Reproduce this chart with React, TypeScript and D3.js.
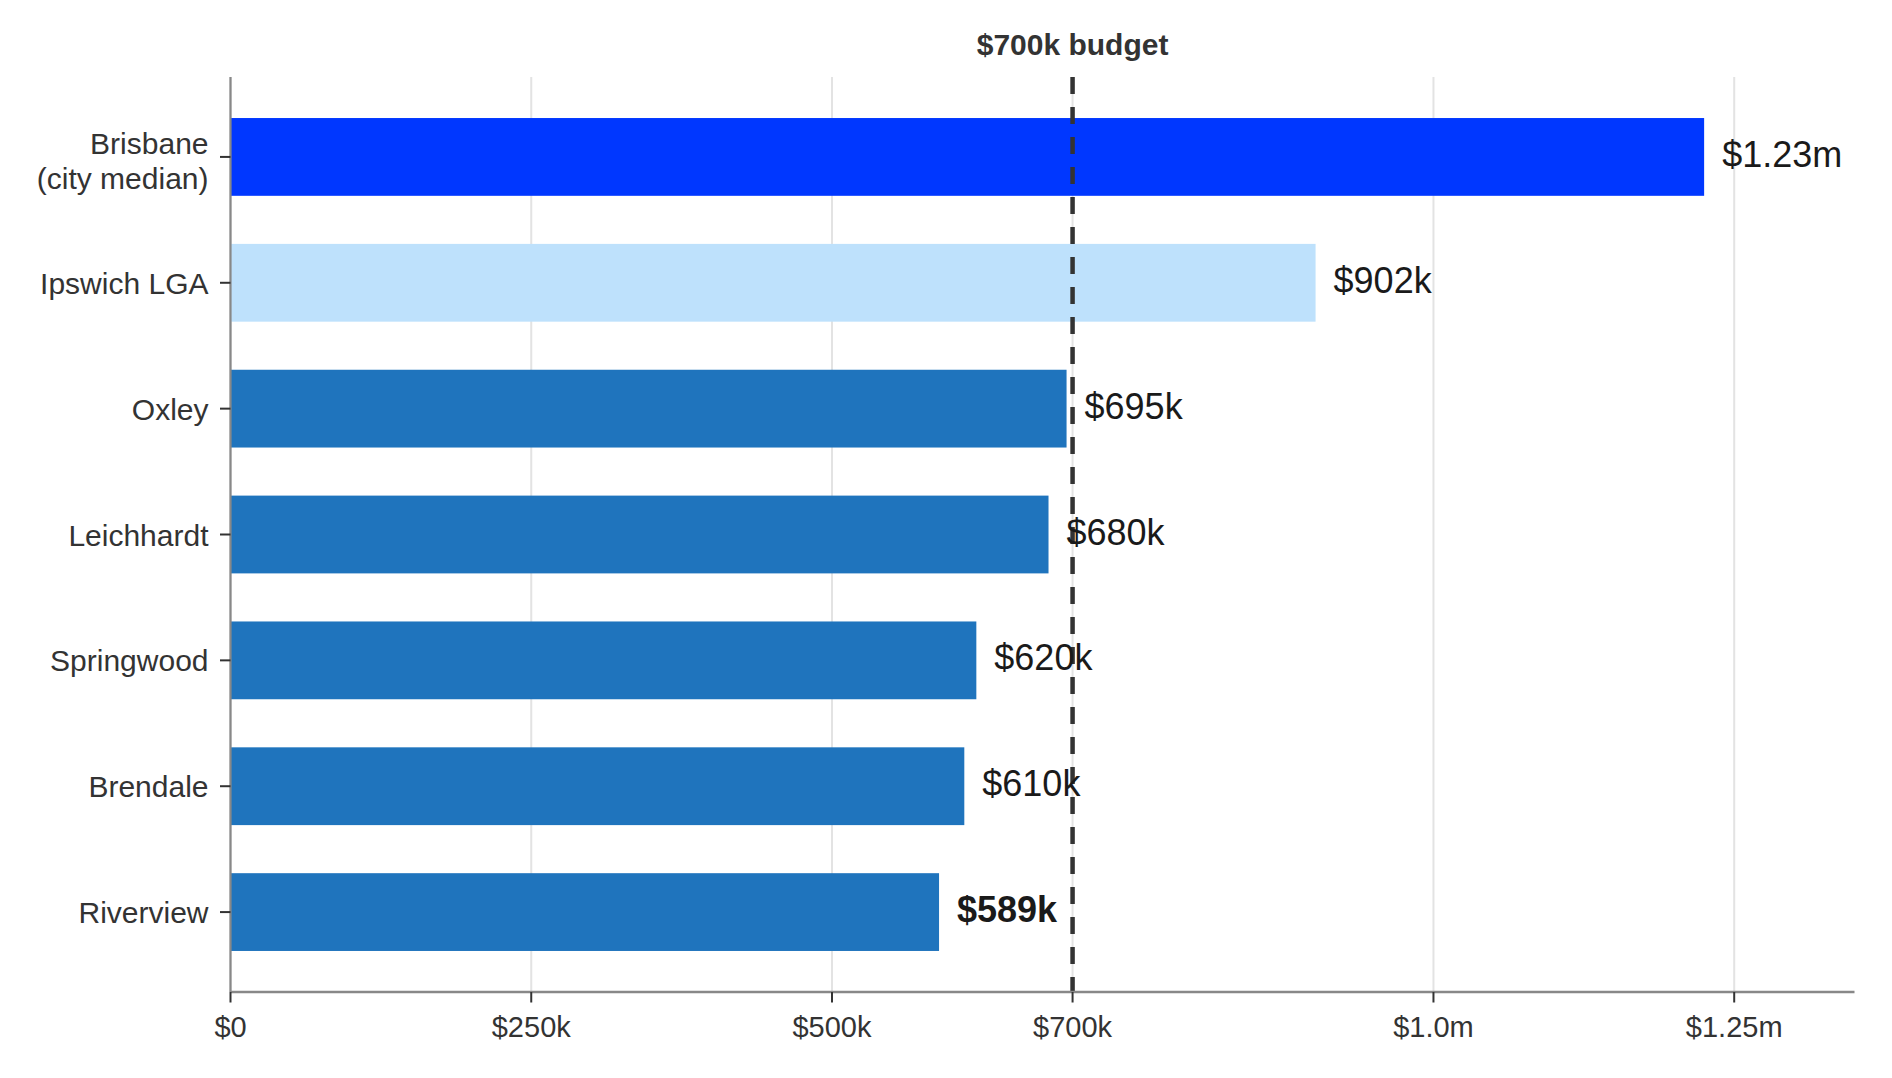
import React from "react"
import * as d3 from "d3"

// suburbs, top to bottom
const suburbs = [
  "Brisbane\n(city median)",
  "Ipswich LGA",
  "Oxley",
  "Leichhardt",
  "Springwood",
  "Brendale",
  "Riverview",
]
const medianPrices = [1225000, 902000, 695000, 680000, 620000, 610000, 589000]
const priceLabels = ["$1.23m", "$902k", "$695k", "$680k", "$620k", "$610k", "$589k"]

const xTickValues = [0, 250000, 500000, 700000, 1000000, 1250000]
const xTickLabels = ["$0", "$250k", "$500k", "$700k", "$1.0m", "$1.25m"]

const budget = 700000
const budgetLabel = "$700k budget"
const highlighted = "Riverview"

const W = 1892
const H = 1078
const plot = { left: 230.5, right: 1854.5, top: 77, bottom: 992 }
const FONT = "'Liberation Sans', Arial, Helvetica, sans-serif"

const colorFor = (name: string) => {
  if (name.startsWith("Brisbane")) return "#0037ff"
  if (name.startsWith("Ipswich")) return "#bee1fc"
  return "#1f74bd"
}

export default function App() {
  const x = d3.scaleLinear().domain([0, 1350000]).range([plot.left, plot.right])
  const y = d3
    .scaleBand<string>()
    .domain(suburbs)
    .range([plot.top, plot.bottom])
    .paddingInner(0.382)
    .paddingOuter(0.326)

  const bw = y.bandwidth()

  return (
    <svg
      width={W}
      height={H}
      viewBox={`0 0 ${W} ${H}`}
      style={{ position: "absolute", left: 0, top: 0, background: "#fff", fontFamily: FONT }}
    >
      {/* grid */}
      {xTickValues.map((v) => (
        <line
          key={"g" + v}
          x1={x(v)}
          x2={x(v)}
          y1={plot.top}
          y2={plot.bottom}
          stroke="#e3e3e3"
          strokeWidth={2}
        />
      ))}

      {/* bars */}
      {suburbs.map((s, i) => (
        <rect
          key={s}
          x={x(0)}
          y={y(s)}
          width={x(medianPrices[i]) - x(0)}
          height={bw}
          fill={colorFor(s)}
        />
      ))}

      {/* budget line */}
      <line
        x1={x(budget)}
        x2={x(budget)}
        y1={plot.top}
        y2={plot.bottom}
        stroke="#333"
        strokeWidth={4.5}
        strokeDasharray="17,13"
      />
      <text
        x={x(budget)}
        y={55}
        textAnchor="middle"
        fontSize={30}
        fontWeight="bold"
        fill="#333"
      >
        {budgetLabel}
      </text>

      {/* value labels */}
      {suburbs.map((s, i) => (
        <text
          key={"v" + s}
          x={x(medianPrices[i]) + 18}
          y={(y(s) ?? 0) + bw / 2 + 10}
          fontSize={36}
          fontWeight={s === highlighted ? "bold" : "normal"}
          fill="#1a1a1a"
        >
          {priceLabels[i]}
        </text>
      ))}

      {/* spines */}
      <line x1={plot.left} x2={plot.left} y1={plot.top} y2={plot.bottom} stroke="#888" strokeWidth={2.2} />
      <line x1={plot.left} x2={plot.right} y1={plot.bottom} y2={plot.bottom} stroke="#888" strokeWidth={2.5} />

      {/* x ticks */}
      {xTickValues.map((v, i) => (
        <g key={"xt" + v} transform={`translate(${x(v)},${plot.bottom})`}>
          <line y1={0} y2={10.5} stroke="#333" strokeWidth={2} />
          <text y={44.5} textAnchor="middle" fontSize={29} fill="#333">
            {xTickLabels[i]}
          </text>
        </g>
      ))}

      {/* y ticks */}
      {suburbs.map((s) => {
        const cy = (y(s) ?? 0) + bw / 2
        const lines = s.split("\n")
        const lh = 35
        const first = 11 - (lines.length - 1) * 14
        return (
          <g key={"yt" + s} transform={`translate(${plot.left},${cy})`}>
            <line x1={-10.5} x2={0} stroke="#333" strokeWidth={2} />
            <text textAnchor="end" fontSize={30} fill="#333">
              {lines.map((ln, j) => (
                <tspan key={j} x={-22} y={first + j * lh}>
                  {ln}
                </tspan>
              ))}
            </text>
          </g>
        )
      })}
    </svg>
  )
}
